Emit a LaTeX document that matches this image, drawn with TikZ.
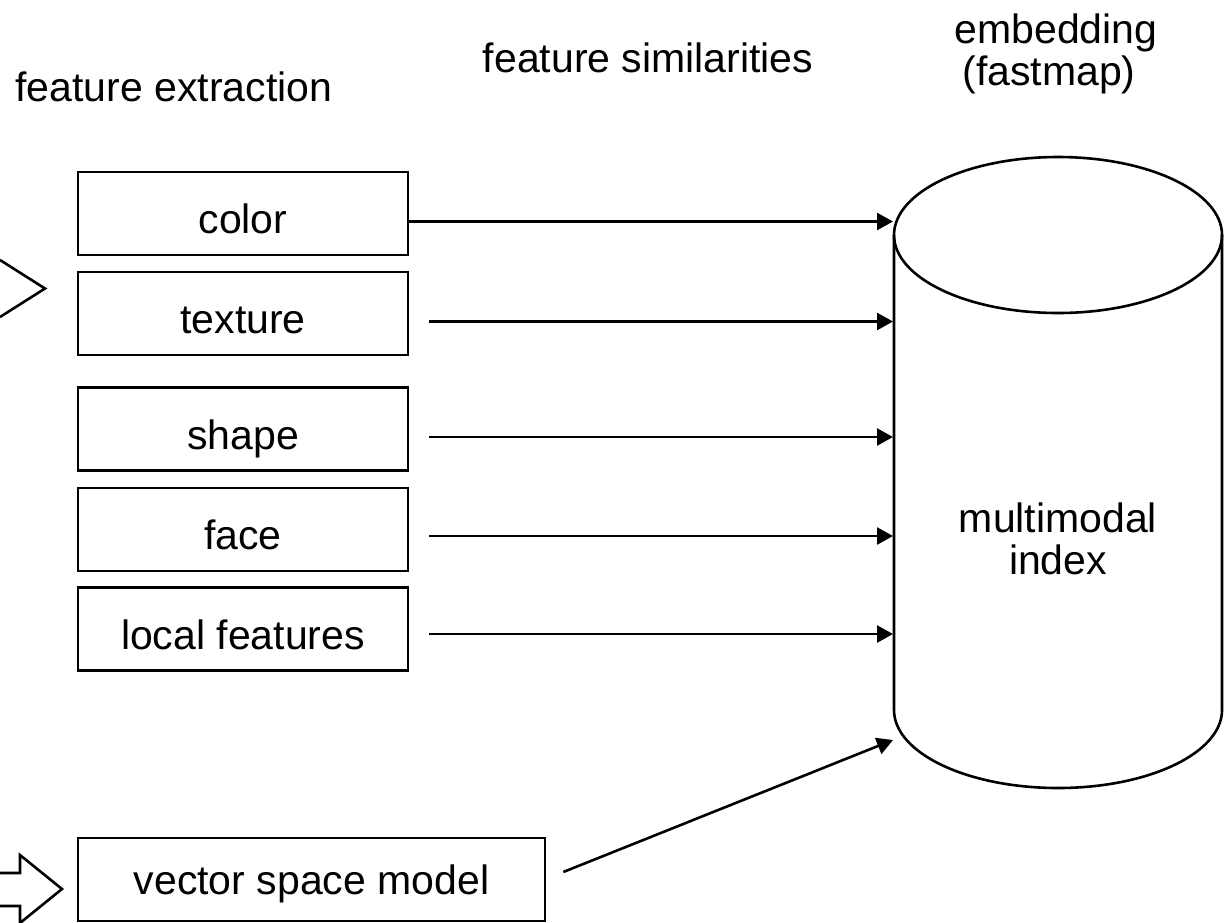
\documentclass[tikz,border=0pt]{standalone}
\usepackage{fontspec}
\setmainfont{Liberation Sans}
\usetikzlibrary{arrows.meta,calc}
\begin{document}
\begin{tikzpicture}[x=0.5pt,y=-0.5pt,
  every node/.style={font=\fontsize{20.5}{21}\selectfont, inner sep=0pt},
  stage/.style={draw, line width=1.3pt, minimum width=165pt, minimum height=41.5pt,
                text height=20pt, text depth=0pt},
  flow/.style={line width=1.3pt, -{Triangle[length=8pt,width=8.5pt]}},
  outline/.style={line width=1.3pt, line join=miter}]
\useasboundingbox (0,0) rectangle (1224,922);

% column headings
\node[anchor=base west] (hextract) at (15,101) {feature extraction};
\node[anchor=base] (hsim) at (648,72) {feature similarities};
\node[anchor=base] (hemb) at (1056,43) {embedding};
\node[anchor=base] (hfast) at (1049,85) {(fastmap)};

% feature extractors
\node[stage] (color) at (243,213.5) {color};
\node[stage] (texture) at (243,313.5) {texture};
\node[stage] (shape) at (243,429) {shape};
\node[stage] (face) at (243,529.5) {face};
\node[stage] (local) at (243,629) {local features};
\node[stage, minimum width=233.5pt, text height=15pt] (vsm) at (311.5,879.5) {vector space model};

% incoming block arrows at the left border
\draw[outline] (0,260) -- (45,288.5) -- (0,317);
\draw[outline] (0,873) -- (20,873) -- (20,855) -- (62,889) -- (20,923) -- (20,906) -- (0,906);

% multimodal index (cylinder)
\draw[outline] (1058,235) ellipse [x radius=164, y radius=78];
\draw[outline] (894,235) -- (894,710) arc[start angle=180, end angle=0, x radius=164, y radius=78] -- (1222,235);
\node[align=center] (index) at (1058,539) {multimodal\\index};
\coordinate (rim) at (893,0);
\coordinate (vto) at (893,740);

% similarity connectors
\draw[flow] ($(color.east)+(0,8)$) -- ($(color.east -| rim)+(0,8)$);
\draw[flow] ($(texture.east)+(20,8)$) -- ($(texture.east -| rim)+(0,8)$);
\draw[flow] ($(shape.east)+(20,8)$) -- ($(shape.east -| rim)+(0,8)$);
\draw[flow] ($(face.east)+(20,6.5)$) -- ($(face.east -| rim)+(0,6.5)$);
\draw[flow] ($(local.east)+(20,5)$) -- ($(local.east -| rim)+(0,5)$);
\draw[flow] ($(vsm.east)+(17,-7.5)$) -- (vto);
\end{tikzpicture}
\end{document}
